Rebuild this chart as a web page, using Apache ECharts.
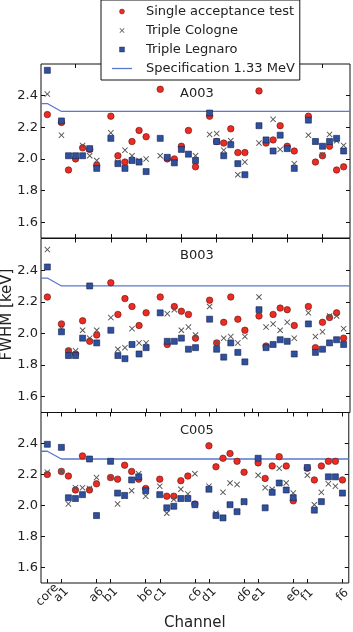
<!DOCTYPE html>
<html>
<head>
<meta charset="utf-8">
<script src="https://cdn.jsdelivr.net/npm/echarts@6/dist/echarts.min.js"></script>
<style>
html, body { margin: 0; padding: 0; background: #fff; }
#chart { width: 353px; height: 632px; }
</style>
</head>
<body>
<div id="chart"></div>
<script>
// channel names, in the order the values are listed
const channels = ['core',
    'a1', 'a2', 'a3', 'a4', 'a5', 'a6',
    'b1', 'b2', 'b3', 'b4', 'b5', 'b6',
    'c1', 'c2', 'c3', 'c4', 'c5', 'c6',
    'd1', 'd2', 'd3', 'd4', 'd5', 'd6',
    'e1', 'e2', 'e3', 'e4', 'e5', 'e6',
    'f1', 'f2', 'f3', 'f4', 'f5', 'f6'];
const labelledChannels = ['core', 'a1', 'a6', 'b1', 'b6', 'c1', 'c6', 'd1', 'd6', 'e1', 'e6', 'f1', 'f6'];
const upperTicks = [5, 10, 15, 20, 25, 30, 35, 40];
const yTicks = [1.6, 1.8, 2.0, 2.2, 2.4];
const panels = ['A003', 'B003', 'C005'];

const specValues = [2.35,
    2.30, 2.30, 2.30, 2.30, 2.30, 2.30, 2.30, 2.30, 2.30, 2.30, 2.30, 2.30,
    2.30, 2.30, 2.30, 2.30, 2.30, 2.30, 2.30, 2.30, 2.30, 2.30, 2.30, 2.30,
    2.30, 2.30, 2.30, 2.30, 2.30, 2.30, 2.30, 2.30, 2.30, 2.30, 2.30, 2.30];

const singleA003 = [2.28, 2.23, 1.93, 2.00, 2.07, 2.06, 1.96, 2.27, 2.02, 1.98, 2.11, 2.18, 2.14,
    2.44, 2.00, 2.00, 2.08, 2.18, 1.95, 2.27, 2.11, 2.10, 2.19, 2.04, 2.04,
    2.43, 2.10, 2.12, 2.21, 2.08, 2.05, 2.27, 1.98, 2.02, 2.08, 1.93, 1.95];
const cologneA003 = [2.41, 2.15, 2.02, 2.02, 2.085, 2.02, 1.99, 2.165, 1.98, 2.055, 2.02, 1.99, 2.00,
    2.02, 2.01, 1.98, 2.06, 2.03, 2.02, 2.155, 2.16, 2.055, 2.115, 1.90, 1.98,
    2.10, 2.12, 2.25, 2.06, 2.07, 1.97, 2.15, 2.11, 2.025, 2.155, 2.115, 2.085];
const legnaroA003 = [2.56, 2.24, 2.02, 2.02, 2.02, 2.065, 1.94, 2.13, 1.97, 1.94, 1.99, 1.98, 1.92,
    2.13, 2.01, 1.975, 2.06, 2.03, 1.99, 2.29, 2.11, 2.02, 2.09, 1.97, 1.90,
    2.21, 2.12, 2.05, 2.15, 2.065, 1.94, 2.245, 2.11, 2.08, 2.11, 2.13, 2.05];

const singleB003 = [2.23, 2.06, 1.89, 1.87, 2.08, 1.95, 1.99, 2.32, 2.12, 2.22, 2.17, 2.05, 2.13,
    2.23, 1.93, 2.17, 2.14, 2.12, 1.97, 2.21, 1.94, 2.07, 2.23, 2.09, 2.02,
    2.11, 1.92, 2.12, 2.16, 2.15, 2.05, 2.17, 1.91, 2.07, 2.10, 2.13, 1.97];
const cologneB003 = [2.53, 2.03, 1.89, 1.89, 2.02, 1.97, 2.02, 2.10, 1.90, 1.91, 2.03, 1.94, 1.94,
    2.13, 2.125, 2.15, 2.02, 2.04, 1.99, 2.17, 1.94, 1.97, 1.98, 1.94, 1.98,
    2.23, 2.04, 2.06, 2.02, 2.07, 1.97, 2.13, 1.98, 2.01, 2.11, 2.11, 2.03];
const legnaroB003 = [2.42, 2.01, 1.86, 1.86, 1.97, 2.30, 1.94, 2.02, 1.86, 1.84, 1.93, 1.87, 1.91,
    2.13, 1.95, 1.95, 1.97, 1.90, 1.91, 2.09, 1.90, 1.85, 1.94, 1.88, 1.82,
    2.15, 1.91, 1.93, 1.96, 1.95, 1.87, 2.06, 1.88, 1.90, 1.94, 1.96, 1.93];

const singleC005 = [2.20, 2.22, 2.19, 2.10, 2.32, 2.10, 2.14, 2.18, 2.17, 2.26, 2.22, 2.17, 2.11,
    2.17, 2.06, 2.06, 2.16, 2.19, 2.01, 2.385, 2.25, 2.305, 2.335, 2.285, 2.215,
    2.275, 2.175, 2.255, 2.315, 2.255, 2.03, 2.24, 2.165, 2.255, 2.285, 2.285, 2.165];
const cologneC005 = [2.215, 2.22, 2.01, 2.115, 2.115, 2.11, 2.18, 2.18, 2.01, 2.06, 2.095, 2.205, 2.06,
    2.125, 1.95, 2.04, 2.105, 2.075, 2.205, 2.125, 1.95, 2.085, 2.145, 2.135, 2.02,
    2.195, 2.115, 2.105, 2.24, 2.145, 2.08, 2.195, 2.005, 2.085, 2.14, 2.125, 2.08];
const legnaroC005 = [2.395, 2.375, 2.05, 2.045, 2.07, 2.30, 1.935, 2.285, 2.08, 2.065, 2.165, 2.185, 2.095,
    2.07, 1.985, 1.995, 2.045, 2.045, 2.005, 2.105, 1.935, 1.92, 2.005, 1.96, 2.025,
    2.305, 1.985, 2.085, 2.145, 2.10, 2.05, 2.245, 1.97, 2.025, 2.185, 2.185, 2.08];

const single = [singleA003, singleB003, singleC005];
const cologne = [cologneA003, cologneB003, cologneC005];
const legnaro = [legnaroA003, legnaroB003, legnaroC005];

// x position of a channel: core first, then six groups of six with a gap between groups
function channelX(name) {
    if (name === 'core') return 1;
    return 3 + 7 * 'abcdef'.indexOf(name[0]) + (Number(name[1]) - 1);
}
const xMin = 0.1;
const xMax = 43.9;
const labelTicks = labelledChannels.map(channelX);

const font = 'DejaVu Sans';
const crossPath = 'path://M0,1.1L1.1,0L5,3.9L8.9,0L10,1.1L6.1,5L10,8.9L8.9,10L5,6.1L1.1,10L0,8.9L3.9,5Z';
const dotPath = 'path://M5,0A5,5,0,1,1,4.99,0Z';
const boxPath = 'path://M0,0H10V10H0Z';
const barPath = 'path://M0,0H20V1.3H0Z';
const gridTops = [64, 238.5, 412.5];
const specColor = '#5a78cc';

const chart = echarts.init(document.getElementById('chart'), null, { renderer: 'canvas' });

// rotated channel labels under the bottom panel
function channelLabels(values) {
    return {
        show: true, customValues: values, rotate: 45, align: 'center', verticalAlign: 'middle',
        showMinLabel: true, showMaxLabel: true, hideOverlap: false,
        margin: 12, fontFamily: font, fontSize: 12, color: '#222',
        formatter: v => labelledChannels[labelTicks.indexOf(v)] || ''
    };
}

let grids = [], xAxes = [], yAxes = [], series = [];
panels.forEach((p, i) => {
    grids.push({
        left: 41, width: 309, top: gridTops[i], height: 174,
        show: true, borderColor: '#111', borderWidth: 1, backgroundColor: 'transparent'
    });
    const ticks = i < 2 ? upperTicks : labelTicks;
    const xBase = {
        gridIndex: i, type: 'value', min: xMin, max: xMax,
        axisLine: { show: false },
        splitLine: { show: false },
        axisTick: { show: true, inside: true, length: 4, customValues: ticks, lineStyle: { color: '#111' } },
        axisLabel: { show: false }
    };
    xAxes.push(Object.assign({}, xBase, {
        position: 'bottom',
        // "core" sits too close to "a1" for ECharts' overlap check, so it gets its own axis below
        axisLabel: i < 2 ? { show: false } : channelLabels(labelTicks.slice(1)),
        name: i === 2 ? 'Channel' : '',
        nameLocation: 'middle', nameGap: 33,
        nameTextStyle: { fontFamily: font, fontSize: 15, color: '#222' }
    }));
    xAxes.push(Object.assign({}, xBase, { position: 'top' }));
    const yBase = {
        gridIndex: i, type: 'value', min: 1.5, max: 2.6,
        axisLine: { show: false },
        splitLine: { show: false },
        axisTick: { show: true, inside: true, length: 4, customValues: yTicks, lineStyle: { color: '#111' } }
    };
    yAxes.push(Object.assign({}, yBase, {
        position: 'left',
        axisLabel: {
            show: true, customValues: yTicks, margin: 3, fontFamily: font, fontSize: 13, color: '#222',
            formatter: v => v.toFixed(1)
        }
    }));
    yAxes.push(Object.assign({}, yBase, { position: 'right', axisLabel: { show: false } }));

    const pts = arr => arr.map((v, k) => [channelX(channels[k]), v]);
    const specPts = [[xMin, specValues[0]]].concat(pts(specValues), [[xMax, specValues[specValues.length - 1]]]);
    series.push({
        name: 'Single acceptance test', type: 'scatter', xAxisIndex: 2 * i, yAxisIndex: 2 * i,
        symbol: 'circle', symbolSize: 6.5, z: 3,
        itemStyle: { color: '#ec2b23', borderColor: '#5e1410', borderWidth: 0.6, opacity: 1 },
        data: pts(single[i])
    });
    series.push({
        name: 'Triple Cologne', type: 'scatter', xAxisIndex: 2 * i, yAxisIndex: 2 * i,
        symbol: crossPath, symbolSize: 6, z: 4,
        itemStyle: { color: '#555', opacity: 1 },
        data: pts(cologne[i])
    });
    series.push({
        name: 'Triple Legnaro', type: 'scatter', xAxisIndex: 2 * i, yAxisIndex: 2 * i,
        symbol: 'rect', symbolSize: 6, z: 5,
        itemStyle: { color: '#2f4f9f', borderColor: '#15244c', borderWidth: 0.6, opacity: 1 },
        data: pts(legnaro[i])
    });
    series.push({
        name: 'Specification 1.33 MeV', type: 'line', xAxisIndex: 2 * i, yAxisIndex: 2 * i,
        symbol: 'none', z: 2, silent: true,
        itemStyle: { color: specColor },
        lineStyle: { color: specColor, width: 1.3 },
        data: specPts
    });
});
xAxes.push({
    gridIndex: 2, type: 'value', min: xMin, max: xMax, position: 'bottom',
    axisLine: { show: false }, splitLine: { show: false }, axisTick: { show: false },
    axisLabel: channelLabels(labelTicks.slice(0, 1))
});

const option = {
    animation: false,
    backgroundColor: '#fff',
    title: panels.map((p, i) => ({
        text: p, left: 180, top: [87, 249, 424][i], padding: 0,
        textStyle: { fontFamily: font, fontSize: 13, fontWeight: 'normal', color: '#222' }
    })),
    legend: {
        orient: 'vertical', left: 101, top: 0,
        padding: [5, 5, 5, 11], itemGap: 6, itemWidth: 20, itemHeight: 5,
        symbolKeepAspect: true,
        backgroundColor: '#fff', borderColor: '#111', borderWidth: 1, borderRadius: 0,
        textStyle: { fontFamily: font, fontSize: 13, color: '#222', padding: [0, 0, 0, 9] },
        data: [
            { name: 'Single acceptance test', icon: dotPath, itemStyle: { borderWidth: 0.4 } },
            { name: 'Triple Cologne', icon: crossPath },
            { name: 'Triple Legnaro', icon: boxPath, itemStyle: { borderWidth: 0.4 } },
            { name: 'Specification 1.33 MeV', icon: barPath, itemStyle: { color: specColor, borderWidth: 0 } }
        ]
    },
    grid: grids,
    xAxis: xAxes,
    yAxis: yAxes,
    series: series,
    graphic: [{
        type: 'text', x: 7.5, y: 314.5, rotation: Math.PI / 2,
        style: { text: 'FWHM [keV]', fontFamily: font, fontSize: 15, fill: '#222', align: 'center', verticalAlign: 'middle' }
    }]
};
chart.setOption(option);
</script>
</body>
</html>
